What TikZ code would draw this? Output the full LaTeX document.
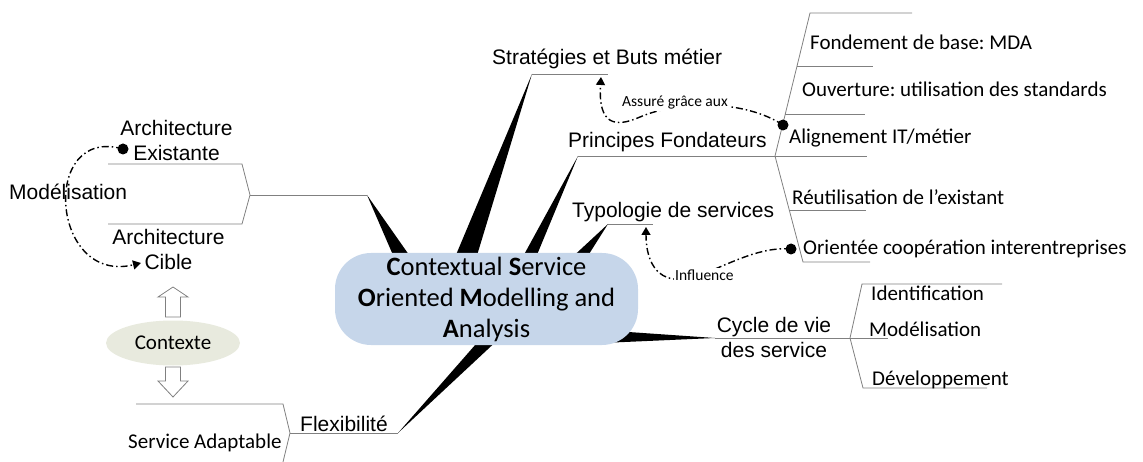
\documentclass[tikz,border=0pt]{standalone}
\usepackage{fontspec}
\setmainfont{Carlito}
\newfontfamily\arialfont{Liberation Sans}
\usetikzlibrary{positioning, arrows.meta, backgrounds, shapes.geometric}
\definecolor{coreblue}{RGB}{198,214,234}
\definecolor{ctxgreen}{RGB}{232,234,222}
\definecolor{linegray}{RGB}{128,128,128}
\frenchspacing

\begin{document}
\begin{tikzpicture}[x=1pt, y=-1pt,
	corenode/.style={
		rounded corners=36pt,
		fill=coreblue,
		minimum width=303pt,
		minimum height=92pt,
		inner sep=0pt,
		align=center,
		font=\fontsize{26.5}{31}\selectfont
	},
	ctxnode/.style={
		ellipse,
		fill=ctxgreen,
		minimum width=134pt,
		minimum height=45pt,
		inner sep=0pt,
		font=\fontsize{21}{25}\selectfont
	},
	armlabel/.style={inner sep=0pt, align=center, font=\arialfont\fontsize{21}{25}\selectfont},
	leaflabel/.style={inner sep=0pt, font=\fontsize{21}{25}\selectfont},
	notelabel/.style={inner sep=1pt, fill=white, font=\fontsize{15.5}{18}\selectfont},
	branch/.style={draw=linegray, line width=0.8pt},
	wedge/.style={fill=black},
	link/.style={line width=1.4pt, dash pattern=on 7pt off 3pt on 1.5pt off 3pt,
		-{Triangle[length=8pt, width=9pt]}},
	linkdot/.style={fill=black},
	hollowarrow/.style={draw=linegray, fill=white, line width=0.8pt, line join=miter}
	]
	\useasboundingbox (0,0) rectangle (1143,462);
	
	% ======================
	% Central topic
	% ======================
	\node (core) [corenode] at (486.5,299)
	{\textbf{C}ontextual \textbf{S}ervice\\\textbf{O}riented \textbf{M}odelling and\\\textbf{A}nalysis};
	
	% branch starts
	\coordinate (archJ) at (367,195);
	\coordinate (stratJ) at (532,74);
	\coordinate (princJ) at (578,156);
	\coordinate (typoJ) at (608,224);
	\coordinate (flexJ) at (398,433);
	\coordinate (cycleJ) at (715,338);
	
	\begin{scope}[on background layer]
		\fill[wedge] (396,262) -- (archJ) -- (414,262) -- cycle;
		\fill[wedge] (453,262) -- (stratJ) -- (475,262) -- cycle;
		\fill[wedge] (520,262) -- (princJ) -- (534,262) -- cycle;
		\fill[wedge] (567,262) -- (typoJ) -- (584,262) -- cycle;
		\fill[wedge] (483,336) -- (flexJ) -- (502,336) -- cycle;
		\fill[wedge] (602,343) -- (cycleJ) -- (614,331) -- cycle;
	\end{scope}
	
	% ======================
	% Architecture (left)
	% ======================
	\coordinate (archK) at (250,195);
	\draw[branch] (archJ) -- (archK);
	\draw[branch] (108,164) -- (242,164) -- (archK) -- (242,224) -- (108,224);
	\node (archold) [armlabel, anchor=north] at (176.5,119.7) {Architecture\\Existante};
	\node (archnew) [armlabel, anchor=north] at (168.5,228.7) {Architecture\\Cible};
	\node (model) [armlabel, anchor=base west] at (9,200) {Modélisation};
	
	\coordinate (oldDot) at (123,149);
	\coordinate (newEnd) at (141,263);
	\draw[link] (oldDot) .. controls (40,125) and (50,285) .. (newEnd);
	\fill[linkdot] (oldDot) circle (5.5pt);
	
	% ======================
	% Context
	% ======================
	\node (ctx) [ctxnode] at (173,343) {Contexte};
	% hollow arrows above and below
	\draw[hollowarrow] (173,287) -- (188,297) -- (180.5,297) -- (180.5,317)
	-- (165.5,317) -- (165.5,297) -- (158,297) -- cycle;
	\draw[hollowarrow] (173,397) -- (188,381) -- (180.5,381) -- (180.5,367)
	-- (165.5,367) -- (165.5,381) -- (158,381) -- cycle;
	
	% ======================
	% Flexibility
	% ======================
	\coordinate (flexK) at (290,433);
	\draw[branch] (flexJ) -- (flexK);
	\draw[branch] (136,404) -- (283,404) -- (flexK) -- (283,462);
	\node (flex) [armlabel, anchor=base west] at (300,431) {Flexibilité};
	\node (adapt) [leaflabel, anchor=base west] at (128,448) {Service Adaptable};
	
	% ======================
	% Strategies and founding principles
	% ======================
	\draw[branch] (stratJ) -- (608,74);
	\node (strat) [armlabel, anchor=base west] at (492,65) {Stratégies et Buts métier};
	
	\coordinate (princK) at (775,156);
	\draw[branch] (princJ) -- (867,156);
	\draw[branch] (912,13) -- (810,13) -- (princK) -- (803,262) -- (870,262);
	\draw[branch] (797,66) -- (873,66);
	\draw[branch] (785,114) -- (865,114);
	\draw[branch] (789,210) -- (866,210);
	\node (princ) [armlabel, anchor=base west] at (568,148) {Principes Fondateurs};
	
	\node (mda) [leaflabel, anchor=base west] at (810,50) {Fondement de base: MDA};
	\node (open) [leaflabel, anchor=base west] at (802,97) {Ouverture: utilisation des standards};
	\node (align) [leaflabel, anchor=base west] at (789,144) {Alignement IT/métier};
	\node (reuse) [leaflabel, anchor=base west] at (792,205) {Réutilisation de l’existant};
	\node (coop) [leaflabel, anchor=base west] at (803,255) {Orientée coopération interentreprises};
	
	% Alignment -> strategies
	\coordinate (alignDot) at (783,125);
	\coordinate (stratEnd) at (601,77);
	\draw[link] (alignDot) .. controls (745,100) and (680,100) .. (640,117)
	.. controls (615,128) and (598,125) .. (stratEnd);
	\fill[linkdot] (alignDot) circle (5.5pt);
	\node (assure) [notelabel, anchor=base west] at (621,107) {Assuré grâce aux};
	
	% ======================
	% Typology of services
	% ======================
	\draw[branch] (typoJ) -- (653,224);
	\node (typo) [armlabel, anchor=base west] at (572,218) {Typologie de services};
	
	\coordinate (coopDot) at (791,249);
	\coordinate (typoEnd) at (646,227);
	\draw[link] (coopDot) .. controls (755,246) and (720,270) .. (690,278)
	.. controls (660,285) and (646,265) .. (typoEnd);
	\fill[linkdot] (coopDot) circle (5.5pt);
	\node (influ) [notelabel, anchor=base west] at (674,280) {Influence};
	
	% ======================
	% Service life cycle
	% ======================
	\coordinate (cycleK) at (850,338);
	\draw[branch] (cycleJ) -- (888,338);
	\draw[branch] (1002,284) -- (862,284) -- (cycleK) -- (863,388) -- (987,388);
	\node (cycle) [armlabel, anchor=north] at (774,316.7) {Cycle de vie\\des service};
	\node (ident) [leaflabel, anchor=base west] at (871,301) {Identification};
	\node (modr) [leaflabel, anchor=base west] at (869,336) {Modélisation};
	\node (dev) [leaflabel, anchor=base west] at (872,385) {Développement};
	
\end{tikzpicture}
\end{document}
